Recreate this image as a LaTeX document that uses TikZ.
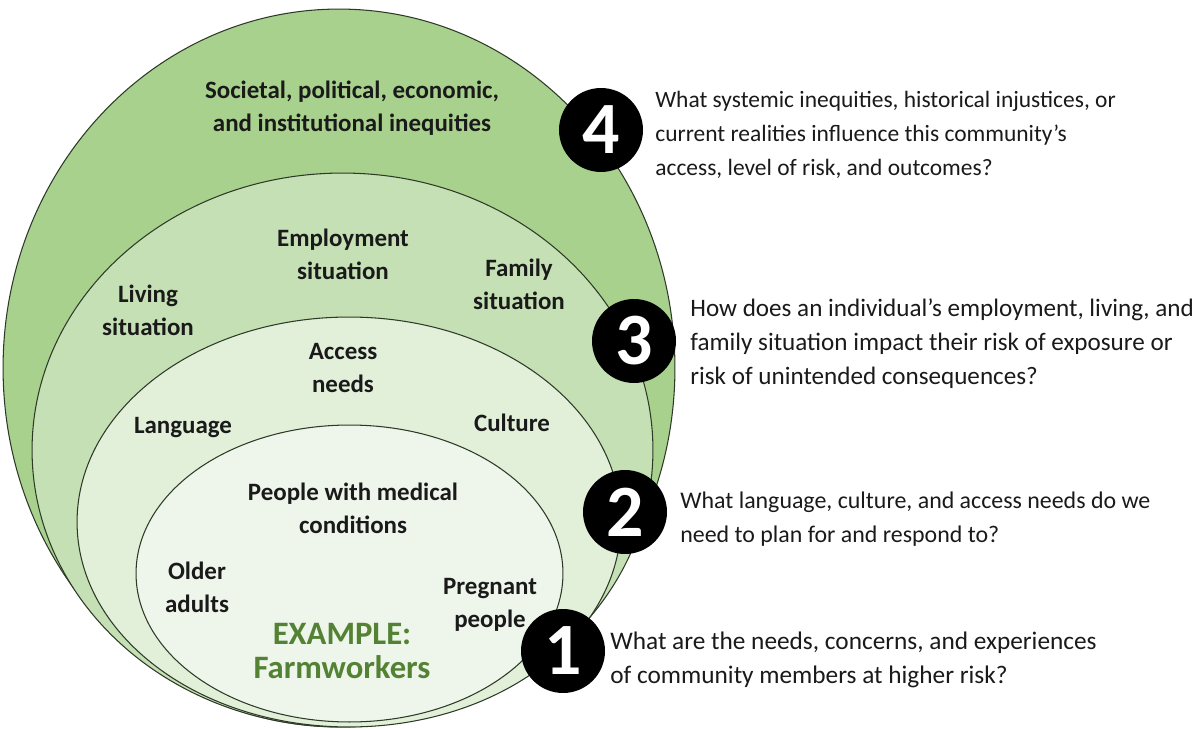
\documentclass[tikz,border=0pt]{standalone}
\usepackage{fontspec}
\setmainfont{Carlito}
\usetikzlibrary{shapes.geometric}
\definecolor{gA}{HTML}{A9D18E}
\definecolor{gB}{HTML}{C5E0B4}
\definecolor{gC}{HTML}{E2F0D9}
\definecolor{gD}{HTML}{EEF5EA}
\definecolor{gEx}{HTML}{548235}
\definecolor{edge}{HTML}{2E3A28}
\definecolor{txt}{HTML}{1A1A1A}
\tikzset{
  ring/.style={ellipse, draw=edge, line width=0.6pt, inner sep=0pt},
  lab/.style={font=\fontsize{14.2}{18.8}\selectfont\bfseries, text=txt, align=center, inner sep=0pt},
  ques/.style={text=txt, align=left, anchor=west, inner sep=0pt},
  badge/.style={circle, fill=black, minimum size=1.68cm, inner sep=0pt, text=white,
    font=\fontsize{42}{42}\selectfont\bfseries},
  example/.style={font=\fontsize{18.6}{19.4}\selectfont\bfseries, text=gEx, align=center, inner sep=0pt}
}
\begin{document}
\begin{tikzpicture}[x=0.02cm,y=-0.02cm]
\useasboundingbox[fill=white] (0,0) rectangle (1202,729);
% nested ellipses
\node[ring, fill=gA, minimum width=13.44cm, minimum height=14.36cm] (L4) at (339,368) {};
\node[ring, fill=gB, minimum width=12.42cm, minimum height=11.08cm] (L3) at (342.5,450) {};
\node[ring, fill=gC, minimum width=10.88cm, minimum height=8.20cm] (L2) at (349,522) {};
\node[ring, fill=gD, minimum width=8.54cm, minimum height=5.94cm] (L1) at (349.5,573.5) {};
% labels inside
\node[lab] (soc) at (352,108) {Societal, political, economic,\\and institutional inequities};
\node[lab] (emp) at (343,254) {Employment\\situation};
\node[lab] (fam) at (519,284) {Family\\situation};
\node[lab] (liv) at (148,310) {Living\\situation};
\node[lab] (acc) at (343,368) {Access\\needs};
\node[lab] (lang) at (183,428) {Language};
\node[lab] (cult) at (512,423) {Culture};
\node[lab] (med) at (353,508) {People with medical\\conditions};
\node[lab] (old) at (197,587) {Older\\adults};
\node[lab] (preg) at (490,605) {Pregnant\\people};
\node[example] (ex) at (342,651) {EXAMPLE:\\Farmworkers};
% badges
\node[badge] (b4) at (601,130) {4};
\node[badge] (b3) at (634,341) {3};
\node[badge] (b2) at (625,512) {2};
\node[badge] (b1) at (563,651) {1};
% questions
\node[ques, font=\fontsize{13.35}{19.4}\selectfont] (q4) at (655,135) {What systemic inequities, historical injustices, or\\current realities influence this community’s\\access, level of risk, and outcomes?};
\node[ques, font=\fontsize{14.3}{19.4}\selectfont] (q3) at (690,344) {How does an individual’s employment, living, and\\family situation impact their risk of exposure or\\risk of unintended consequences?};
\node[ques, font=\fontsize{13.6}{19.4}\selectfont] (q2) at (680,519) {What language, culture, and access needs do we\\need to plan for and respond to?};
\node[ques, font=\fontsize{14.4}{19.4}\selectfont] (q1) at (610,660) {What are the needs, concerns, and experiences\\of community members at higher risk?};
\end{tikzpicture}
\end{document}
